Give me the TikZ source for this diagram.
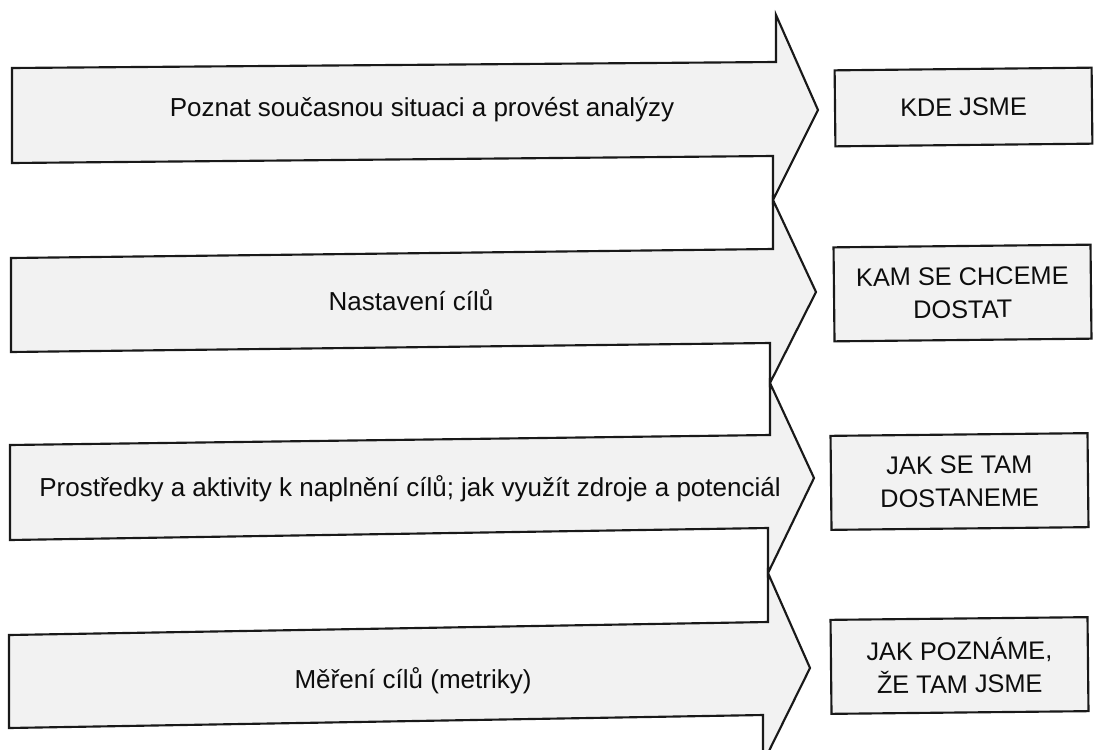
\documentclass[tikz,border=0pt]{standalone}
\usepackage{fontspec}
\setmainfont{Liberation Sans}
\begin{document}
\begin{tikzpicture}[x=0.75pt,y=0.75pt,
  shp/.style={draw=black!90,line width=1.6pt,fill=black!5,line join=miter},
  lbl/.style={text=black!95,font=\fontsize{19.5}{23}\selectfont,inner sep=0pt},
  box/.style={shp,rectangle,rotate=0.6,minimum width=192.75pt,minimum height=70.5pt,align=center,
    text=black!95,font=\fontsize{19}{24.75}\selectfont,inner sep=0pt},
  lowbox/.style={minimum height=57pt}]
\clip (0,0) rectangle (1094,-749);
\useasboundingbox (0,0) rectangle (1094,-749);
\fill[white] (0,0) rectangle (1094,-749);
% arrows
\draw[shp] (12,-68) -- (776,-62) -- (776,-15) -- (818,-110) -- (773,-200) -- (773,-156) -- (12,-163) -- cycle;
\draw[shp] (11,-258) -- (773,-249) -- (773,-200) -- (816,-292) -- (770,-383) -- (770,-343) -- (11,-352) -- cycle;
\draw[shp] (10,-445) -- (770,-435) -- (770,-383) -- (814,-478) -- (768,-573) -- (768,-528) -- (10,-540) -- cycle;
\draw[shp] (9,-635) -- (768,-622) -- (768,-573) -- (810,-668) -- (763,-763) -- (763,-715) -- (9,-728) -- cycle;
\node[lbl] (t1) at (422,-110) {Poznat současnou situaci a provést analýzy};
\node[lbl] (t2) at (411,-300) {Nastavení cílů};
\node[lbl] (t3) at (410,-489) {Prostředky a aktivity k naplnění cílů; jak využít zdroje a potenciál};
\node[lbl] (t4) at (413,-681) {Měření cílů (metriky)};
% boxes
\node[box,lowbox] (b1) at (963.5,-107) {KDE JSME};
\node[box] (b2) at (962.5,-293) {KAM SE CHCEME\\DOSTAT};
\node[box] (b3) at (959.5,-481.5) {JAK SE TAM\\DOSTANEME};
\node[box] (b4) at (959.5,-665.5) {JAK POZNÁME,\\ŽE TAM JSME};
\end{tikzpicture}
\end{document}
